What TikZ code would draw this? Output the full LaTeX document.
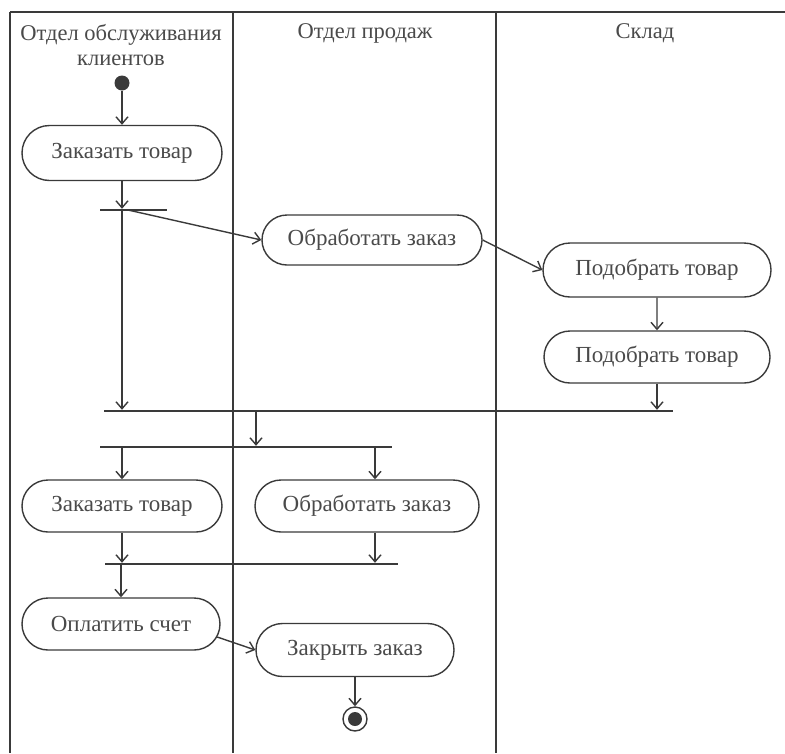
\documentclass[tikz,border=0pt]{standalone}
\usepackage{fontspec}
\setmainfont{Liberation Serif}
\usetikzlibrary{shapes.misc,arrows.meta}
\definecolor{ink}{HTML}{3A3A3A}
\definecolor{txt}{HTML}{4A4A4A}
\tikzset{
  act/.style={rounded rectangle, draw=ink, line width=1.4pt, text=txt,
              font=\fontsize{23}{27}\selectfont, inner sep=0pt},
  bar/.style={fill=ink, inner sep=0pt, minimum height=2pt},
  flow/.style={draw=ink, line width=1.4pt, -{Straight Barb[length=7pt,width=12pt,line width=1.4pt]}},
  lane/.style={draw=ink, line width=1.8pt},
  head/.style={text=txt, font=\fontsize{22.5}{25}\selectfont, align=center, inner sep=0pt}
}
\begin{document}
\begin{tikzpicture}[x=1pt,y=-1pt]
\useasboundingbox (0,0) rectangle (785,753);
% swimlanes
\coordinate (tl) at (10,12);
\coordinate (tr) at (785,12);
\coordinate (d1) at (233,12);
\coordinate (d2) at (496,12);
\draw[lane] (tl) -- (tr);
\draw[lane] (tl) -- (10,753);
\draw[lane] (d1) -- (233,753);
\draw[lane] (d2) -- (496,753);
\node[head] (h1) at (121,45) {Отдел обслуживания\\клиентов};
\node[head] (h2) at (365,33) {Отдел продаж};
\node[head] (h3) at (645,33) {Склад};
% start / end
\node[circle, fill=ink, minimum size=15pt, inner sep=0pt] (start) at (122,83) {};
\node[circle, draw=ink, line width=1.4pt, minimum size=24pt, inner sep=0pt] (end) at (355,719) {};
\node[circle, fill=ink, minimum size=14pt, inner sep=0pt] (endin) at (355,719) {};
% activities
\node[act, minimum width=200pt, minimum height=55pt] (n1) at (122,153) {Заказать товар};
\node[act, minimum width=220pt, minimum height=50pt] (n2) at (372,240) {Обработать заказ};
\node[act, minimum width=228pt, minimum height=54pt] (n3) at (657,270) {Подобрать товар};
\node[act, minimum width=226pt, minimum height=52pt] (n4) at (657,357) {Подобрать товар};
\node[act, minimum width=200pt, minimum height=52pt] (n5) at (122,506) {Заказать товар};
\node[act, minimum width=224pt, minimum height=52pt] (n6) at (367,506) {Обработать заказ};
\node[act, minimum width=198pt, minimum height=52pt] (n7) at (121,624) {Оплатить счет};
\node[act, minimum width=198pt, minimum height=53pt] (n8) at (355,650) {Закрыть заказ};
% fork / join bars
\node[bar, minimum width=67pt]  (f1) at (133.5,210) {};
\node[bar, minimum width=569pt] (j1) at (388.5,411) {};
\node[bar, minimum width=292pt] (f2) at (246,447) {};
\node[bar, minimum width=293pt] (j2) at (251.5,564) {};
% flows
\draw[flow] (start) -- (n1);
\draw[flow] (n1.south) -- (n1.south |- f1.north);
\draw[flow] (f1.south -| n1.south) -- (n1.south |- j1.north);
\draw[flow] ([xshift=6pt]f1.east -| n1.south) -- (n2.west);
\draw[flow] (n2.east) -- (n3.west);
\draw[flow] (n3) -- (n4);
\draw[flow] (n4.south) -- (n4.south |- j1.north);
\draw[flow] (j1.south -| 256,0) -- (f2.north -| 256,0);
\draw[flow] (f2.south -| n5.north) -- (n5.north);
\draw[flow] (f2.south -| 375,0) -- ([xshift=8pt]n6.north);
\draw[flow] (n5.south) -- (n5.south |- j2.north);
\draw[flow] ([xshift=8pt]n6.south) -- (j2.north -| 375,0);
\draw[flow] (j2.south -| n7.north) -- (n7.north);
\draw[flow] ([xshift=-3.5pt,yshift=-13pt]n7.east) -- (n8.west);
\draw[flow] (n8.south) -- (end.north);
\end{tikzpicture}
\end{document}
